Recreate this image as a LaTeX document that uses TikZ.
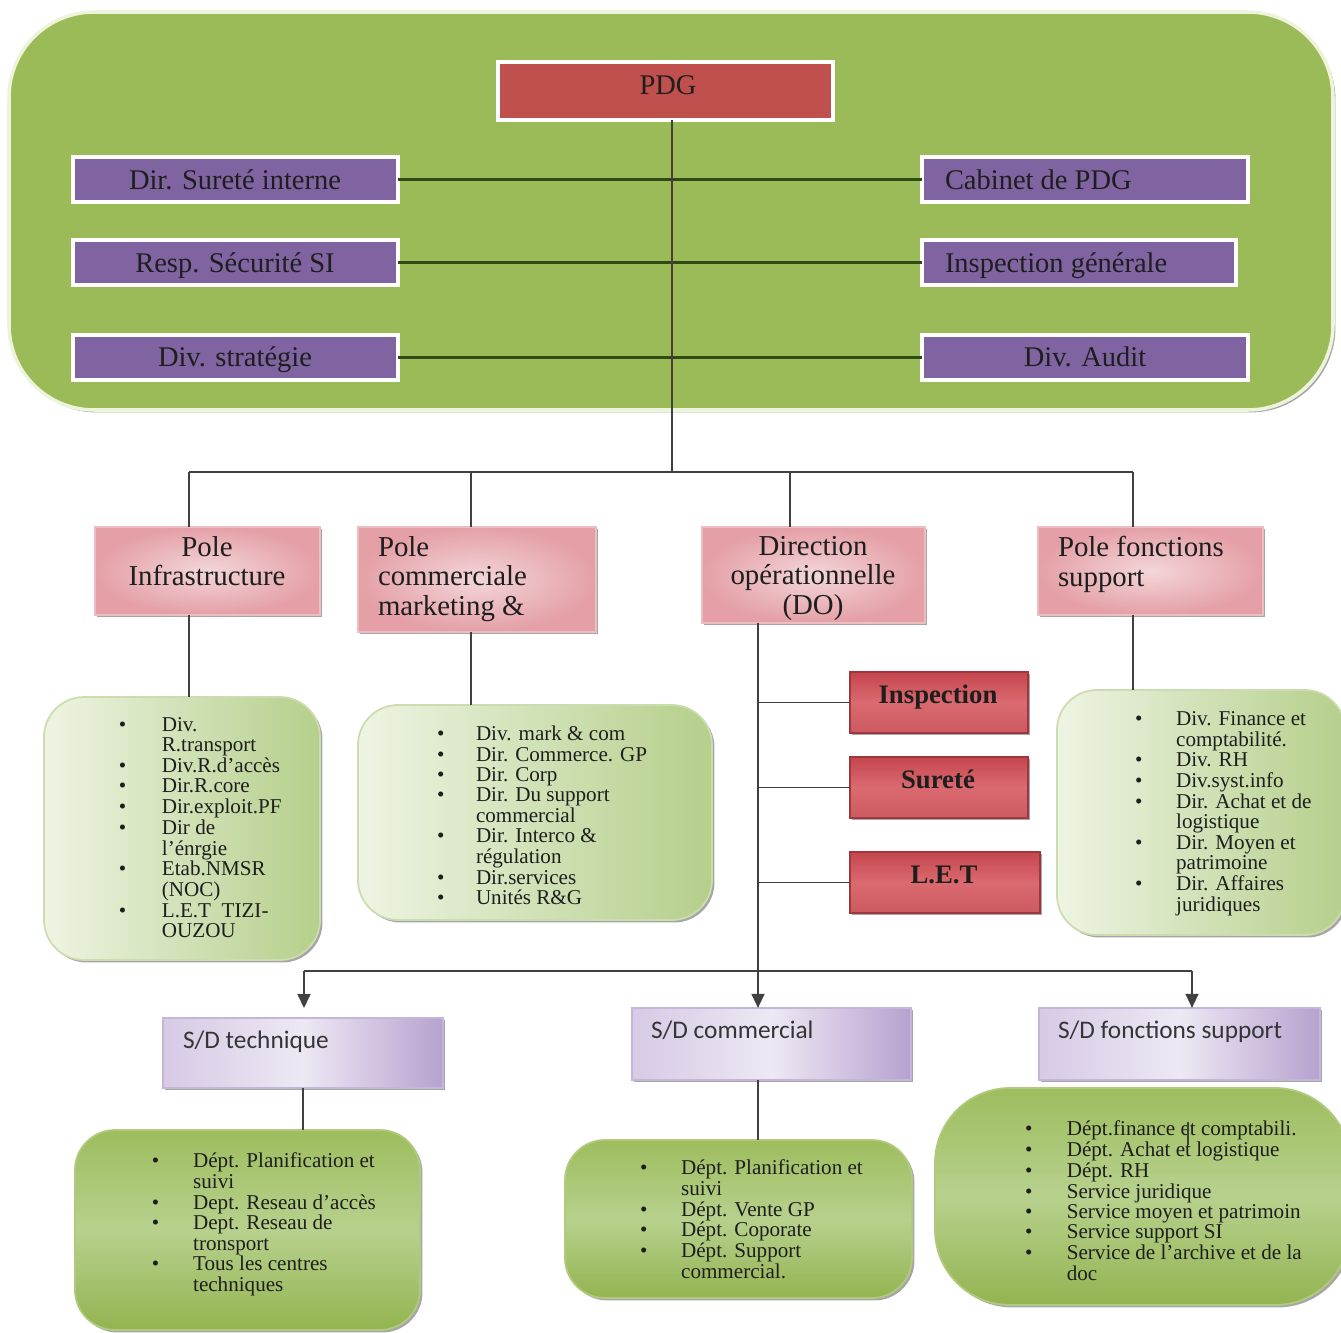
\documentclass[tikz,border=0pt]{standalone}
\usepackage{fontspec}
\setmainfont{Liberation Serif}
\newfontfamily\sdfont{Carlito}
\usetikzlibrary{arrows.meta,shadows,calc}

\definecolor{bigGreen}{HTML}{9BBB59}
\definecolor{bigEdge}{HTML}{EEF4DC}
\definecolor{pdgRed}{HTML}{C0504D}
\definecolor{dirPurple}{HTML}{8064A2}
\definecolor{poleIn}{HTML}{F3D6D9}
\definecolor{poleOut}{HTML}{E4A0A6}
\definecolor{redTop}{HTML}{C5464D}
\definecolor{redMid}{HTML}{DB6A70}
\definecolor{redBot}{HTML}{CC5A60}
\definecolor{listLight}{HTML}{EEF4E3}
\definecolor{listGreen}{HTML}{B5CF8B}
\definecolor{deepTop}{HTML}{9DBD5E}
\definecolor{deepMid}{HTML}{B7D18D}
\definecolor{deepBot}{HTML}{93B451}
\definecolor{sdLight}{HTML}{EEE8F4}
\definecolor{sdMid}{HTML}{D6CAE5}
\definecolor{sdPurple}{HTML}{B6A2CF}
\definecolor{lineGreen}{HTML}{2E4A17}
\definecolor{ink}{HTML}{1E1E1E}

% box given by its pixel corners: name, style, x1, y1, x2, y2
\newcommand\boxnode[6]{\node[#2, anchor=north west,
  minimum width={(#5-#3)*0.01cm}, minimum height={(#6-#4)*0.01cm}] (#1) at (#3,#4) {};}
% bulleted list: bullet column width, rows
\newcommand\lst[2]{\begin{tabular}{@{}p{#1}@{}l@{}}#2\end{tabular}}
\newcommand\bl{\textbullet}

\tikzset{
  every node/.style={inner sep=0pt, outer sep=0pt},
  shadowed/.style={drop shadow={shadow xshift=0.7pt, shadow yshift=-0.7pt, fill=black, opacity=0.35}},
  bigpanel/.style={fill=bigGreen, draw=bigEdge, line width=1pt, rounded corners=0.85cm, shadowed},
  headbox/.style={fill=pdgRed, draw=white, line width=1.2pt, shadowed},
  dirbox/.style={fill=dirPurple, draw=white, line width=1.2pt, shadowed},
  polebox/.style={inner color=poleIn, outer color=poleOut, draw=poleOut!70!white, line width=0.4pt, shadowed},
  redbox/.style={top color=redTop, bottom color=redBot, middle color=redMid, draw=redTop!80!black, line width=0.3pt, shadowed},
  listbox/.style={left color=listLight, right color=listGreen, draw=listGreen!70!white, line width=0.5pt, rounded corners=0.4cm, shadowed},
  deepbox/.style={top color=deepTop, bottom color=deepBot, middle color=deepMid, draw=deepTop!80!white, line width=0.5pt, rounded corners=0.4cm, shadowed},
  sdbox/.style={left color=sdMid, right color=sdPurple, middle color=sdLight, draw=sdPurple!80!white, line width=0.4pt, shadowed},
  toptext/.style={font=\fontsize{8.1}{9}\selectfont, text=ink},
  poletext/.style={font=\fontsize{8.2}{8.5}\selectfont, text=ink},
  redtext/.style={font=\fontsize{7.6}{8}\selectfont\bfseries, text=ink, anchor=base},
  sdtext/.style={font=\sdfont\fontsize{7.2}{8}\selectfont, text=ink!90, anchor=base west},
  listtext/.style={font=\fontsize{6}{5.8}\selectfont, text=ink, anchor=north west},
  link/.style={draw=black!75, line width=0.45pt},
  toplink/.style={draw=lineGreen, line width=0.6pt},
  feed/.style={draw=black!75, line width=0.7pt, -{Triangle[length=4pt,width=3.6pt]}},
}

\begin{document}
\begin{tikzpicture}[x=0.01cm, y=-0.01cm]
\useasboundingbox (0,0) rectangle (1341,1333);

% ---- executive panel
\boxnode{panel}{bigpanel}{9}{12}{1333}{410}
\boxnode{pdg}{headbox}{498}{62}{833}{120}
\boxnode{d1}{dirbox}{73}{157}{398}{202}
\boxnode{d2}{dirbox}{73}{240}{398}{285}
\boxnode{d3}{dirbox}{73}{335}{398}{380}
\boxnode{c1}{dirbox}{922}{157}{1248}{202}
\boxnode{c2}{dirbox}{922}{240}{1236}{285}
\boxnode{c3}{dirbox}{922}{335}{1248}{380}

\draw[toplink] (d1.east) -- (c1.west);
\draw[toplink] (d2.east) -- (c2.west);
\draw[toplink] (d3.east) -- (c3.west);

% ---- poles
\boxnode{pinf}{polebox}{95}{527}{320}{615}
\boxnode{pcom}{polebox}{358}{527}{596}{632}
\boxnode{do}{polebox}{702}{527}{925}{623}
\boxnode{pfs}{polebox}{1038}{527}{1263}{615}

% ---- units under the DO
\boxnode{insp}{redbox}{850}{672}{1028}{733}
\boxnode{sur}{redbox}{850}{757}{1028}{818}
\boxnode{let}{redbox}{850}{852}{1040}{913}

% ---- lists of the poles
\boxnode{l1}{listbox}{44}{697}{320}{960}
\boxnode{l2}{listbox}{358}{705}{712}{920}
\boxnode{l3}{listbox}{1057}{690}{1345}{935}

% ---- sub-directions
\boxnode{sdt}{sdbox}{163}{1018}{443}{1088}
\boxnode{sdc}{sdbox}{632}{1008}{911}{1080}
\boxnode{sdf}{sdbox}{1039}{1008}{1320}{1080}

\boxnode{l4}{deepbox}{75}{1130}{420}{1330}
\boxnode{l5}{deepbox}{565}{1140}{912}{1298}
\node[deepbox, rounded corners=0.75cm, anchor=north west,
  minimum width={(1350-935)*0.01cm}, minimum height={(1305-1088)*0.01cm}] (l6) at (935,1088) {};

% ---- connectors
\coordinate (spine) at (672,472);
\coordinate (b1) at (189,472);
\coordinate (b2) at (471,472);
\coordinate (b3) at (790,472);
\coordinate (b4) at (1133,472);
\coordinate (dx) at (758,0);
\coordinate (fl) at (304,971);
\coordinate (fr) at (1192,971);

\draw[link] (pdg.south -| spine) -- (spine);
\draw[link] (b1) -- (b4);
\draw[link] (b1) -- (b1 |- pinf.north);
\draw[link] (b2) -- (b2 |- pcom.north);
\draw[link] (b3) -- (b3 |- do.north);
\draw[link] (b4) -- (b4 |- pfs.north);

\draw[link] (pinf.south -| b1) -- (l1.north -| b1);
\draw[link] (pcom.south -| b2) -- (l2.north -| b2);
\draw[link] (pfs.south -| b4) -- (l3.north -| b4);

\draw[feed] (do.south -| dx) -- (sdc.north -| dx);
\draw[link] (insp.west -| dx) -- (insp.west);
\draw[link] (sur.west -| dx) -- (sur.west);
\draw[link] (let.west -| dx) -- (let.west);

\draw[link, line width=0.7pt] (fl) -- (fr);
\draw[feed, shorten >=2.8pt] (fl) -- (sdt.north -| fl);
\draw[feed] (fr) -- (sdf.north -| fr);

\draw[link] (sdt.south) -- (sdt.south |- l4.north);
\draw[link] (sdc.south -| dx) -- (l5.north -| dx);

% ---- texts
\node[toptext, anchor=base] (t-pdg) at (668,94) {PDG};
\node[toptext, anchor=base] (t-d1) at (235,189) {Dir. Sureté interne};
\node[toptext, anchor=base] (t-d2) at (235,272) {Resp. Sécurité SI};
\node[toptext, anchor=base] (t-d3) at (235,366) {Div. stratégie};
\node[toptext, anchor=base west] (t-c1) at (945,189) {Cabinet de PDG};
\node[toptext, anchor=base west] (t-c2) at (945,272) {Inspection générale};
\node[toptext, anchor=base] (t-c3) at (1085,366) {Div. Audit};

\node[poletext, anchor=north, align=center] (t-pinf) at (207,536) {Pole\\Infrastructure};
\node[poletext, anchor=north west, align=left] (t-pcom) at (378,536) {Pole\\commerciale\\marketing \&};
\node[poletext, anchor=north, align=center] (t-do) at (813,536) {Direction\\opérationnelle\\(DO)};
\node[poletext, anchor=north west, align=left] (t-pfs) at (1058,536) {Pole fonctions\\support};

\node[redtext] (t-insp) at (938,703) {Inspection};
\node[redtext] (t-sur) at (938,788) {Sureté};
\node[redtext] (t-let) at (944,883) {L.E.T};

\node[sdtext] (t-sdt) at (183,1048) {S/D technique};
\node[sdtext] (t-sdc) at (651,1038) {S/D commercial};
\node[sdtext] (t-sdf) at (1058,1038) {S/D fonctions support};

\node[listtext] (t-l1) at (119,717) {\lst{12.2pt}{%
  \bl & Div.\\ & R.transport\\ \bl & Div.R.d’accès\\ \bl & Dir.R.core\\
  \bl & Dir.exploit.PF\\ \bl & Dir de\\ & l’énrgie\\ \bl & Etab.NMSR\\
  & (NOC)\\ \bl & L.E.T\ \ TIZI-\\ & OUZOU}};
\node[listtext] (t-l2) at (437,726) {\lst{11.1pt}{%
  \bl & Div. mark \& com\\ \bl & Dir. Commerce. GP\\ \bl & Dir. Corp\\
  \bl & Dir. Du support\\ & commercial\\ \bl & Dir. Interco \&\\ & régulation\\
  \bl & Dir.services\\ \bl & Unités R\&G}};
\node[listtext] (t-l3) at (1135,711) {\lst{11.7pt}{%
  \bl & Div. Finance et\\ & comptabilité.\\ \bl & Div. RH\\ \bl & Div.syst.info\\
  \bl & Dir. Achat et de\\ & logistique\\ \bl & Dir. Moyen et\\ & patrimoine\\
  \bl & Dir. Affaires\\ & juridiques}};
\node[listtext] (t-l4) at (152,1153) {\lst{11.7pt}{%
  \bl & Dépt. Planification et\\ & suivi\\ \bl & Dept. Reseau d’accès\\
  \bl & Dept. Reseau de\\ & tronsport\\ \bl & Tous les centres\\ & techniques}};
\node[listtext] (t-l5) at (640,1160) {\lst{11.7pt}{%
  \bl & Dépt. Planification et\\ & suivi\\ \bl & Dépt. Vente GP\\
  \bl & Dépt. Coporate\\ \bl & Dépt. Support\\ & commercial.}};
\node[listtext] (t-l6) at (1025,1121) {\lst{11.9pt}{%
  \bl & Dépt.finance et comptabili.\\ \bl & Dépt. Achat et logistique\\
  \bl & Dépt. RH\\ \bl & Service juridique\\ \bl & Service moyen et patrimoin\\
  \bl & Service support SI\\ \bl & Service de l’archive et de la\\ & doc}};

% short stub crossing the first line of the support list
\coordinate (stubA) at (1188,1122);
\coordinate (stubB) at (1188,1145);
\draw[link] (stubA) -- (stubB);
\end{tikzpicture}
\end{document}
